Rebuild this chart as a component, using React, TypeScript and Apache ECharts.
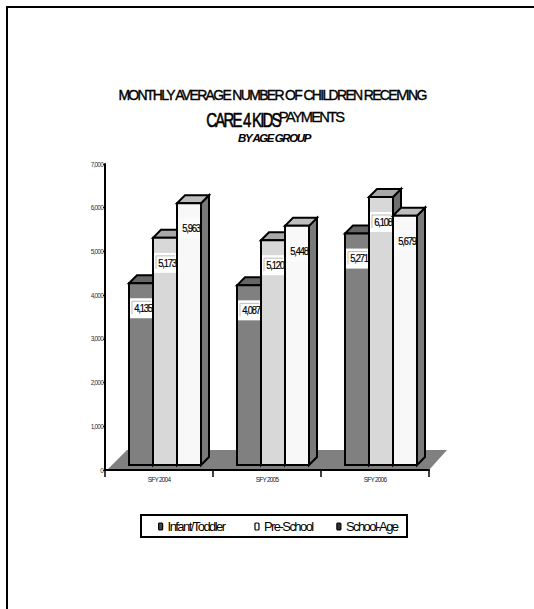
import React, { useEffect, useRef } from "react";
import * as echarts from "echarts";

const categories = ["SFY 2004", "SFY 2005", "SFY 2006"];
const seriesNames = ["Infant/Toddler", "Pre-School", "School-Age"];
const infantToddler = [4135, 4087, 5271];
const preSchool = [5173, 5120, 6108];
const schoolAge = [5963, 5448, 5679];
const seriesValues = [infantToddler, preSchool, schoolAge];
const faceColors = ["#808080", "#d8d8d8", "#f8f8f8"];
const topColors = ["#666666", "#a8a8a8", "#bdbdbd"];
const sideColors = ["#666666", "#6e6e6e", "#7a7a7a"];
const legendFills = ["#444444", "#ffffff", "#333333"];

const FONT = "'Liberation Sans', Arial, sans-serif";
const BAR_W = 24;
const SHIFT_X = 6;
const LIFT = 6;
const DEPTH = 8;

function makeBars(si: number) {
  return {
    type: "custom",
    name: seriesNames[si],
    coordinateSystem: "cartesian2d",
    z: 3 + si,
    itemStyle: { color: faceColors[si] },
    data: seriesValues[si].map((v, i) => [i, v]),
    clip: false,
    renderItem: (_p: any, api: any) => {
      const pt = api.coord([api.value(0), api.value(1)]);
      const base = api.coord([api.value(0), 0]);
      const x = pt[0] + SHIFT_X + (si - 1.5) * BAR_W;
      const top = pt[1] - LIFT;
      const bot = base[1] - 5;
      const line = { stroke: "#000", lineWidth: 2, lineJoin: "miter" };
      const txt = Number(api.value(1)).toLocaleString("en-US");
      const labelY = top + 25;
      const children: any[] = [
        { type: "polygon", shape: { points: [[x + BAR_W, top], [x + BAR_W + DEPTH, top - DEPTH], [x + BAR_W + DEPTH, bot - DEPTH], [x + BAR_W, bot]] }, style: { fill: sideColors[si], ...line } },
        { type: "polygon", shape: { points: [[x, top], [x + DEPTH, top - DEPTH], [x + BAR_W + DEPTH, top - DEPTH], [x + BAR_W, top]] }, style: { fill: topColors[si], ...line } },
        { type: "rect", shape: { x, y: top, width: BAR_W, height: bot - top }, style: { fill: faceColors[si], ...line } },
        { type: "rect", shape: { x: x + 1, y: labelY - 10, width: BAR_W - 2, height: 20 }, style: { fill: si === 2 ? "#fbfbfb" : "#ffffff" } },
      ];
      if (si < 2) {
        children.push({ type: "polyline", shape: { points: [[x + 3, labelY + 6], [x + 3, labelY - 7], [x + BAR_W - 2, labelY - 7]] }, style: { fill: "none", stroke: "#aaaaaa", lineWidth: 0.8 } });
      }
      children.push({
        type: "text", x: x + BAR_W / 2 + 2, y: labelY, scaleX: 0.85, scaleY: 1,
        style: { text: txt, fill: "#000", stroke: "#000", lineWidth: 0.2, font: `11px ${FONT}`, align: "center", verticalAlign: "middle" },
      });
      return { type: "group", children };
    },
  };
}

const floorSeries = {
  type: "custom",
  name: "Floor",
  coordinateSystem: "cartesian2d",
  z: 1,
  silent: true,
  data: [[0, 0]],
  clip: false,
  renderItem: (_p: any, api: any) => {
    const band = api.size([1, 0])[0];
    const c0 = api.coord([0, 0]);
    const c2 = api.coord([categories.length - 1, 0]);
    const l = c0[0] - band / 2;
    const r = c2[0] + band / 2;
    const y = c0[1];
    return {
      type: "polygon",
      shape: { points: [[l + 2, y], [l + 22, y - 20], [r + 18, y - 20], [r, y]] },
      style: { fill: "#808080" },
    };
  },
};

function titleText(text: string, cx: number, y: number, size: number, sx: number, sw: number, weight = "normal", style = "normal") {
  return {
    type: "text", x: cx, y, scaleX: sx, scaleY: 1, z: 10,
    style: { text, fill: "#000", stroke: "#000", lineWidth: sw, font: `${style} ${weight} ${size}px ${FONT}`, align: "center", verticalAlign: "middle" },
  };
}

export default function App() {
  const ref = useRef<HTMLDivElement>(null);
  useEffect(() => {
    const chart = echarts.init(ref.current!, undefined, { renderer: "svg" });
    chart.setOption({
      animation: false,
      backgroundColor: "#fff",
      grid: { left: 105, right: 105, top: 164, height: 306, containLabel: false },
      xAxis: {
        type: "category",
        data: categories,
        z: 8,
        axisLine: { show: true, lineStyle: { color: "#000", width: 2 } },
        axisTick: { show: true, length: 7, lineStyle: { color: "#000", width: 1.5 } },
        axisLabel: { margin: 6, fontSize: 6.5, color: "#222", fontFamily: FONT },
      },
      yAxis: {
        type: "value", min: 0, max: 7000, interval: 1000,
        z: 8,
        axisLine: { show: true, lineStyle: { color: "#000", width: 2 } },
        axisTick: { show: true, length: 2, lineStyle: { color: "#000", width: 1 } },
        splitLine: { show: false },
        axisLabel: {
          margin: 2, fontSize: 6.5, color: "#333", fontFamily: FONT,
          formatter: (v: number) => v.toLocaleString("en-US"),
        },
      },
      legend: {
        show: true,
        data: seriesNames.map((n, i) => ({ name: n, icon: "roundRect", itemStyle: { color: legendFills[i], borderColor: "#000", borderWidth: 1.2 } })),
        left: 158, top: 520,
        itemWidth: 4, itemHeight: 7, itemGap: 8,
        padding: 0,
        textStyle: { fontFamily: FONT, fontSize: 13, color: "#000" },
      },
      series: [floorSeries, makeBars(0), makeBars(1), makeBars(2)],
      graphic: [
        { type: "polyline", shape: { points: [[7, 609], [7, 7], [534, 7]] }, style: { fill: "none", stroke: "#000", lineWidth: 2 } },
        { type: "rect", shape: { x: 141, y: 515, width: 266, height: 22 }, style: { fill: "none", stroke: "#000", lineWidth: 2 } },
        titleText("MONTHLY AVERAGE NUMBER OF CHILDREN RECEIVING", 272, 95, 14, 1, 0.4),
        titleText("CARE 4 KIDS", 243, 120, 20, 0.75, 0.6),
        titleText("PAYMENTS", 311, 117, 14, 1.05, 0.3),
        titleText("BY AGE GROUP", 274, 138, 11, 1.04, 0.1, "bold", "italic"),
      ],
    });
    return () => chart.dispose();
  }, []);
  return (
    <>
      <style>{`#chart-root svg text { letter-spacing: -0.12em; }`}</style>
      <div id="chart-root" ref={ref} style={{ position: "absolute", left: 0, top: 0, width: 534, height: 609 }} />
    </>
  );
}
